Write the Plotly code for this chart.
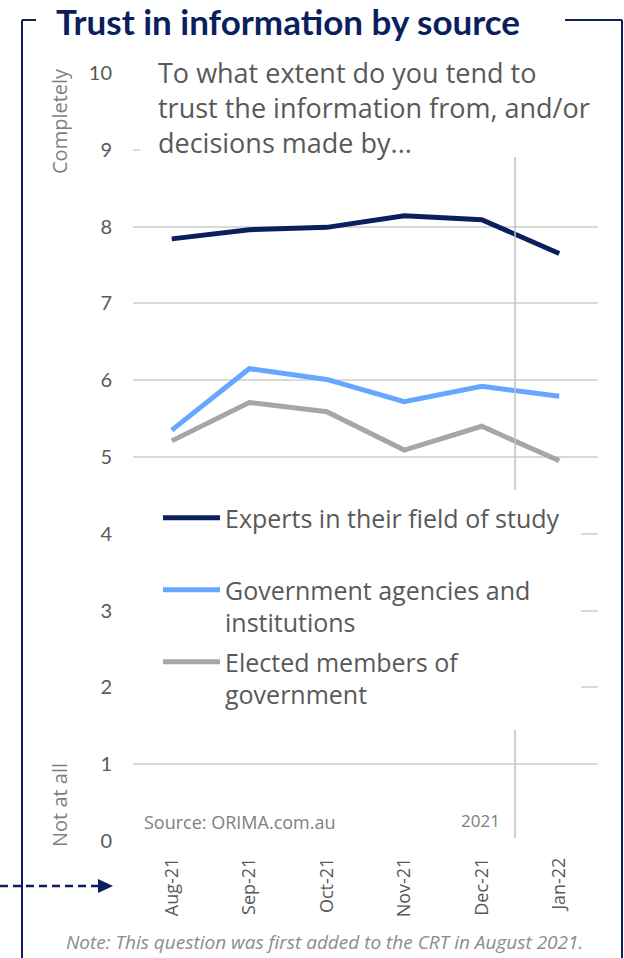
import plotly.graph_objects as go

# ---- data ----
months = ["Aug-21", "Sep-21", "Oct-21", "Nov-21", "Dec-21", "Jan-22"]
experts = [7.84, 7.96, 7.99, 8.14, 8.09, 7.65]
gov_agencies = [5.35, 6.15, 6.01, 5.72, 5.92, 5.79]
elected = [5.21, 5.71, 5.59, 5.09, 5.40, 4.95]
series_names = ["Experts in their field of study",
                "Government agencies and<br>institutions",
                "Elected members of<br>government"]
y_ticks = list(range(0, 11))

NAVY = "#0B1F5E"
BLUE = "#66A6FF"
GREY = "#A6A6A6"
TXT = "#595959"
LIGHT = "#808080"
FONT = "Lato"
BODY = "Open Sans"

W, H = 624, 958
L, R, T, B = 133, 598, 73, 841


def px(x):
    return (x - L) / (R - L)


def py(y):
    return (B - y) / (B - T)


fig = go.Figure()
for vals, name, col, lg in [(experts, series_names[0], NAVY, "legend"),
                            (gov_agencies, series_names[1], BLUE, "legend2"),
                            (elected, series_names[2], GREY, "legend3")]:
    fig.add_trace(go.Scatter(x=months, y=vals, mode="lines", name=name,
                             line=dict(color=col, width=5), legend=lg))

leg_common = dict(bgcolor="rgba(0,0,0,0)", font=dict(family=BODY, size=25, color=TXT),
                  itemwidth=57, xanchor="left", yanchor="middle", valign="top",
                  borderwidth=0, itemclick=False, itemdoubleclick=False)

shapes = []
# vertical year divider
shapes.append(dict(type="line", xref="x", yref="y", x0=4.43, x1=4.43, y0=0.04, y1=10,
                   line=dict(color="#BFBFBF", width=1.5), layer="above"))
# white covers (behind text boxes)
shapes.append(dict(type="rect", xref="paper", yref="paper", x0=px(140), x1=px(602),
                   y0=py(157), y1=py(50), fillcolor="white", line=dict(width=0), layer="above"))
shapes.append(dict(type="rect", xref="paper", yref="paper", x0=px(128), x1=px(581),
                   y0=py(730), y1=py(490), fillcolor="white", line=dict(width=0), layer="above"))
# frame
fr = dict(color=NAVY, width=2)
for (x0, y0, x1, y1) in [(22, 20, 22, 958), (22, 20, 36, 20), (565, 20, 622, 20), (622, 20, 622, 958)]:
    shapes.append(dict(type="line", xref="paper", yref="paper", x0=px(x0), x1=px(x1),
                       y0=py(y0), y1=py(y1), line=fr, layer="above"))
# dashed arrow
shapes.append(dict(type="line", xref="paper", yref="paper", x0=px(0), x1=px(99),
                   y0=py(886), y1=py(886), line=dict(color=NAVY, width=2.5, dash="8px,5px"),
                   layer="above"))
shapes.append(dict(type="path", xref="paper", yref="paper",
                   path=f"M{px(98)},{py(879)} L{px(113)},{py(886)} L{px(98)},{py(893)} Z",
                   fillcolor=NAVY, line=dict(width=0), layer="above"))

ann = []
ann.append(dict(text="<b>Trust in information by source</b>", x=px(54), y=py(21),
                xanchor="left", yanchor="middle", font=dict(family=FONT, size=35, color=NAVY)))
ann.append(dict(text="To what extent do you tend to<br>trust the information from, and/or<br>decisions made by...",
                x=px(156), y=py(52), xanchor="left", yanchor="top", align="left",
                font=dict(family=BODY, size=27, color=TXT)))
ann.append(dict(text="Completely", x=px(59), y=py(121), textangle=-90, xanchor="center",
                yanchor="middle", font=dict(family=BODY, size=20, color=LIGHT)))
ann.append(dict(text="Not at all", x=px(59), y=py(805), textangle=-90, xanchor="center",
                yanchor="middle", font=dict(family=BODY, size=20, color=LIGHT)))
ann.append(dict(text="Source: ORIMA.com.au", x=px(142), y=py(822), xanchor="left",
                yanchor="middle", font=dict(family=BODY, size=18, color=LIGHT)))
ann.append(dict(text="2021", x=px(480), y=py(820), xanchor="center",
                yanchor="middle", font=dict(family=BODY, size=17, color=LIGHT)))
ann.append(dict(text="<i>Note: This question was first added to the CRT in August 2021.</i>",
                x=px(324), y=py(942), xanchor="center", yanchor="middle",
                font=dict(family=BODY, size=19, color="#8C8C8C")))
for a in ann:
    a.update(xref="paper", yref="paper", showarrow=False)

fig.update_layout(
    width=W, height=H,
    margin=dict(l=L, r=W - R, t=T, b=H - B),
    paper_bgcolor="white", plot_bgcolor="white",
    font=dict(family=BODY, color=TXT),
    showlegend=True,
    legend=dict(x=px(158), y=py(518), **leg_common),
    legend2=dict(x=px(158), y=py(606), **leg_common),
    legend3=dict(x=px(158), y=py(678), **leg_common),
    shapes=shapes, annotations=ann,
    xaxis=dict(type="category", range=[-0.5, 5.5], tickangle=-90, showgrid=False,
               showline=False, zeroline=False, ticklabelstandoff=12,
               tickfont=dict(family=BODY, size=18, color=TXT), fixedrange=True),
    yaxis=dict(range=[0, 10], tickvals=y_ticks, showgrid=True, gridcolor="#D9D9D9",
               gridwidth=2, zeroline=False, showline=False, ticklabelstandoff=20,
               tickfont=dict(family=FONT, size=20, color=TXT), fixedrange=True),
)

fig.write_html("out.html")
